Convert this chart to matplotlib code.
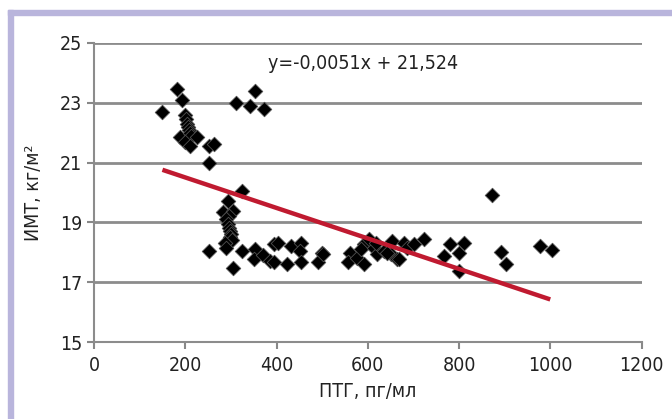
import matplotlib
matplotlib.use('Agg')
import matplotlib.pyplot as plt
from matplotlib.patches import Rectangle

# --- Data ---
ptg = [150, 181, 192, 188, 200, 202, 204, 206, 208, 210, 212, 200, 210, 225,
       252, 264, 252,
       312, 352, 341, 372,
       325,
       293, 282, 304, 295, 290, 293, 296, 298, 300, 297, 302, 288, 289, 252,
       304, 324,
       353, 350, 371, 386, 395, 404, 432, 454, 452, 423, 394, 454, 500, 492,
       503, 562, 556, 577, 591, 591, 602, 585, 613, 620, 635, 653, 650, 664,
       679, 686, 701, 642, 668, 617, 723, 767, 781, 800, 810, 800,
       873, 893, 902, 978, 1003]
imt = [22.7, 23.47, 23.08, 21.84, 22.6, 22.45, 22.3, 22.2, 22.1, 22.0, 21.9,
       21.7, 21.55, 21.84, 21.54, 21.62, 20.99,
       22.99, 23.4, 22.88, 22.79,
       20.04,
       19.71, 19.34, 19.38, 19.23, 19.1, 18.95, 18.8, 18.7, 18.6, 18.5, 18.4,
       18.3, 18.16, 18.04, 17.49, 18.04,
       18.1, 17.77, 17.9, 17.71, 18.27, 18.32, 18.21, 18.32, 18.04, 17.6,
       17.69, 17.69, 17.99, 17.69, 17.93, 17.99, 17.66, 17.82, 17.6, 18.27,
       18.43, 18.1, 18.16, 17.93, 18.04, 18.38, 17.93, 17.77, 18.32, 18.16,
       18.27, 17.99, 17.79, 18.32, 18.43, 17.88, 18.27, 17.99, 18.32, 17.38,
       19.9, 18.01, 17.6, 18.21, 18.08]

slope = -0.0051
intercept = 21.524
trend_x = [150, 1000]
trend_y = [slope * x + intercept for x in trend_x]

x_ticks = [0, 200, 400, 600, 800, 1000, 1200]
y_ticks = [15, 17, 19, 21, 23, 25]

plt.rcParams['font.family'] = ['DejaVu Sans']
plt.rcParams['font.stretch'] = 'condensed'

fig = plt.figure(figsize=(6.72, 4.19), dpi=100)

# --- purple frame (top and left strips) ---
frame_col = '#b9b5dc'
fig.patches.append(Rectangle((8 / 672, 1 - 15 / 419), 1, 5 / 419,
                             transform=fig.transFigure, color=frame_col, zorder=0))
fig.patches.append(Rectangle((8 / 672, 0), 5 / 672, 1 - 10 / 419,
                             transform=fig.transFigure, color=frame_col, zorder=0))

ax = fig.add_axes([94 / 672, 1 - 342 / 419, (641.5 - 94) / 672, (342 - 43) / 419])

ax.scatter(ptg, imt, marker='D', s=55, color='black', edgecolors='#505050',
           linewidths=0.6, zorder=3)
ax.plot(trend_x, trend_y, color='#c01a30', linewidth=3.2, zorder=4,
        solid_capstyle='butt')

ax.set_xlim(0, 1200)
ax.set_ylim(15, 25)
ax.set_xticks(x_ticks)
ax.set_yticks(y_ticks)
ax.tick_params(labelsize=14, colors='#888888', labelcolor='#222222',
               length=5, width=1.5)
ax.tick_params(axis='x', pad=5)
ax.grid(axis='y', color='#8c8c8c', linewidth=2)
ax.set_axisbelow(True)

for side in ['top', 'right']:
    ax.spines[side].set_visible(False)
for side in ['left', 'bottom']:
    ax.spines[side].set_color('#8c8c8c')
    ax.spines[side].set_linewidth(1.5)

ax.set_xlabel('ПТГ, пг/мл', fontsize=14, color='#222222', labelpad=5)
ax.set_ylabel('ИМТ, кг/м²', fontsize=14, color='#222222', labelpad=12)

ax.text(382, 24.33, 'y=-0,0051x + 21,524', fontsize=14, color='#222222',
        va='center', ha='left')

plt.savefig('out.png', dpi=100)
